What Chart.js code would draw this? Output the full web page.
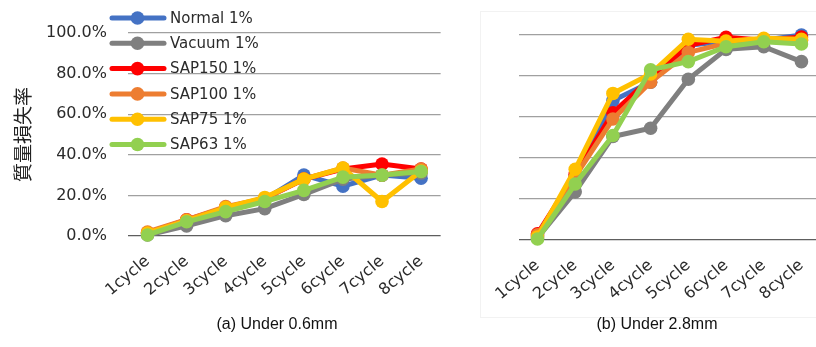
<!DOCTYPE html>
<html>
<head>
<meta charset="utf-8">
<script src="https://cdn.jsdelivr.net/npm/chart.js@4/dist/chart.umd.min.js"></script>
<style>
  html, body { margin: 0; padding: 0; background: #fff; }
  body { width: 816px; height: 347px; position: relative; overflow: hidden; }
  #frameB { position: absolute; left: 480px; top: 11px; width: 360px; height: 307px; border: 1px solid #f2f2f2; box-sizing: border-box; }
  canvas { position: absolute; top: 0; }
  #chartA { left: 0; }
  #chartB { left: 480px; }
  .caption { position: absolute; top: 315px; font: 16px "Liberation Sans", Arial, sans-serif; color: #111; white-space: nowrap; transform: translateX(-50%); }
</style>
</head>
<body>
<div id="frameB"></div>
<canvas id="chartA" width="450" height="320"></canvas>
<canvas id="chartB" width="350" height="320"></canvas>
<div class="caption" style="left:277px">(a) Under 0.6mm</div>
<div class="caption" style="left:657px">(b) Under 2.8mm</div>
<script>
// Cycle labels on the x axis
const cycles = ['1cycle', '2cycle', '3cycle', '4cycle', '5cycle', '6cycle', '7cycle', '8cycle'];
// Series names
const seriesNames = ['Normal 1%', 'Vacuum 1%', 'SAP150 1%', 'SAP100 1%', 'SAP75 1%', 'SAP63 1%'];
// Y-axis tick values (%)
const yTicks = [0, 20, 40, 60, 80, 100];

// Mass loss rate (%), particles under 0.6mm
const normalA = [1.5, 7.5, 14.0, 18.0, 30.0, 24.5, 30.0, 28.5];
const vacuumA = [0.5, 5.0, 10.0, 13.5, 20.5, 28.0, 30.0, 31.0];
const sap150A = [1.5, 8.0, 14.0, 18.5, 28.0, 33.0, 35.5, 33.0];
const sap100A = [2.0, 8.0, 14.5, 18.5, 28.0, 33.5, 30.0, 33.0];
const sap75A  = [1.5, 7.5, 14.0, 19.0, 28.0, 33.5, 17.0, 32.0];
const sap63A  = [0.5, 7.0, 12.0, 17.0, 22.5, 29.0, 30.0, 31.8];

// Mass loss rate (%), particles under 2.8mm
const normalB = [2.0, 31.0, 68.0, 77.0, 95.0, 97.0, 97.5, 100.0];
const vacuumB = [1.0, 23.5, 50.5, 54.5, 78.4, 93.0, 94.3, 87.0];
const sap150B = [3.0, 32.0, 62.0, 79.0, 95.0, 98.9, 97.5, 99.0];
const sap100B = [2.5, 31.0, 59.0, 77.0, 91.5, 96.0, 97.0, 97.5];
const sap75B  = [1.5, 34.5, 71.5, 81.0, 97.9, 97.0, 98.4, 97.9];
const sap63B  = [0.5, 27.3, 51.0, 83.0, 87.0, 94.3, 96.7, 95.6];

const colors = ['#4472C4', '#7F7F7F', '#FF0000', '#ED7D31', '#FFC000', '#92D050'];

function makeDatasets(seriesList) {
  return seriesList.map((data, i) => ({
    label: seriesNames[i],
    data: data,
    borderColor: colors[i],
    backgroundColor: colors[i],
    pointBackgroundColor: colors[i],
    pointBorderColor: colors[i],
    borderWidth: 5,
    pointRadius: 6.8,
    pointBorderWidth: 0,
    tension: 0,
    // later series sit on top of earlier ones
    order: seriesList.length - 1 - i,
    clip: false
  }));
}

// Legend drawn inside the plot area, stacked vertically
const insideLegend = {
  id: 'insideLegend',
  afterDraw(chart) {
    const ctx = chart.ctx;
    ctx.save();
    chart.data.datasets.forEach((ds, i) => {
      const y = 18 + i * 25.3;
      ctx.strokeStyle = ds.borderColor;
      ctx.lineWidth = 5;
      ctx.lineCap = 'round';
      ctx.beginPath();
      ctx.moveTo(112, y);
      ctx.lineTo(164, y);
      ctx.stroke();
      ctx.fillStyle = ds.borderColor;
      ctx.beginPath();
      ctx.arc(137.5, y, 6.8, 0, Math.PI * 2);
      ctx.fill();
      ctx.fillStyle = '#2b2b2b';
      ctx.font = '15px "DejaVu Sans", sans-serif';
      ctx.textAlign = 'left';
      ctx.textBaseline = 'middle';
      ctx.fillText(ds.label, 170, y + 1);
    });
    ctx.restore();
  }
};

function makeOptions(showYLabels, padding, yWidth, xHeight) {
  return {
    responsive: false,
    animation: false,
    layout: { padding: padding },
    plugins: { legend: { display: false }, tooltip: { enabled: false } },
    scales: {
      x: {
        offset: true,
        grid: { display: false, drawTicks: false },
        border: { display: false },
        ticks: {
          minRotation: 40, maxRotation: 40, padding: 16,
          color: '#2b2b2b',
          font: { family: '"DejaVu Sans", sans-serif', size: 16 }
        },
        afterFit(scale) { scale.height = xHeight; }
      },
      y: {
        min: yTicks[0], max: yTicks[yTicks.length - 1],
        afterBuildTicks(scale) { scale.ticks = yTicks.map(v => ({ value: v })); },
        grid: {
          drawTicks: false,
          lineWidth: 1.3,
          color: c => (c.tick && c.tick.value === 0) ? '#5e5e5e' : '#a0a0a0'
        },
        border: { display: false },
        ticks: {
          display: showYLabels,
          padding: 21,
          color: '#2b2b2b',
          font: { family: '"DejaVu Sans", sans-serif', size: 16 },
          callback: v => v.toFixed(1) + '%'
        },
        title: {
          display: showYLabels,
          text: '質量損失率',
          color: '#222',
          padding: { top: 11, bottom: 0 },
          font: { family: '"Noto Sans CJK JP", sans-serif', size: 19 }
        },
        afterFit(scale) { scale.width = yWidth; }
      }
    }
  };
}

new Chart(document.getElementById('chartA'), {
  type: 'line',
  data: {
    labels: cycles,
    datasets: makeDatasets([normalA, vacuumA, sap150A, sap100A, sap75A, sap63A])
  },
  options: makeOptions(true, { top: 33, right: 9, left: 0, bottom: 0 }, 128, 84),
  plugins: [insideLegend]
});

new Chart(document.getElementById('chartB'), {
  type: 'line',
  data: {
    labels: cycles,
    datasets: makeDatasets([normalB, vacuumB, sap150B, sap100B, sap75B, sap63B])
  },
  options: makeOptions(false, { top: 35, right: 9, left: 33, bottom: 0 }, 0, 80)
});
</script>
</body>
</html>
